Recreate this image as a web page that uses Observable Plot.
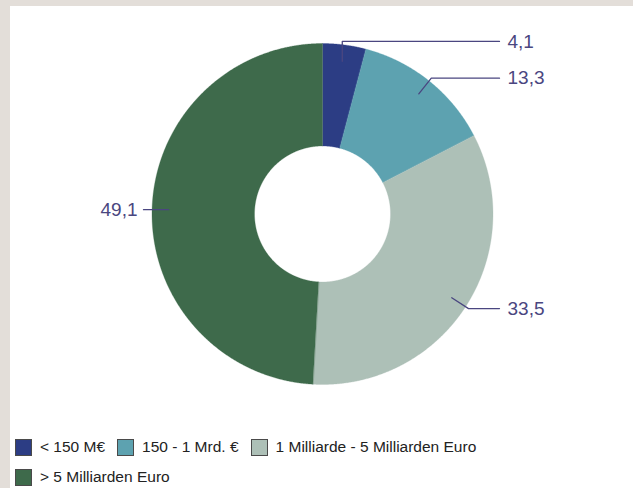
<!DOCTYPE html>
<html>
<head>
<meta charset="utf-8">
<script src="https://cdn.jsdelivr.net/npm/d3@7"></script>
<script src="https://cdn.jsdelivr.net/npm/@observablehq/plot@0.6"></script>
<style>
  html, body { margin: 0; padding: 0; }
  body { width: 633px; height: 488px; background: #e3ded9; overflow: hidden; position: relative; font-family: "Liberation Sans", Arial, sans-serif; }
  #panel { position: absolute; left: 10px; top: 6px; width: 623px; height: 482px; background: #ffffff; }
  #chart svg { display: block; }
  #legend { margin-top: 6px; padding-left: 5px; width: 560px; display: flex; flex-wrap: wrap; }
  .item { display: flex; align-items: center; height: 30px; margin-right: 12px; font-size: 15.5px; color: #222; }
  .sw { width: 17px; height: 17px; border: 1px solid #4a4a4a; margin-right: 8px; box-sizing: border-box; }
</style>
</head>
<body>
<div id="panel">
  <div id="chart"></div>
  <div id="legend"></div>
</div>
<script>
const categories = ["< 150 M€", "150 - 1 Mrd. €", "1 Milliarde - 5 Milliarden Euro", "> 5 Milliarden Euro"];
const values = [4.1, 13.3, 33.5, 49.1];
const valueLabels = ["4,1", "13,3", "33,5", "49,1"];
const colors = ["#2c3d84", "#5da2b0", "#adc0b7", "#3e6a4b"];

const W = 623, H = 420;
const cx = 312, cy = 207.5, R = 170.5, r0 = 68;
const rLeadIn = 154, rLeadOut = 174, xRight = 489, xLeft = 133;
const labelColor = "#4a4680";

const data = categories.map((c, i) => ({cat: c, value: values[i], label: valueLabels[i]}));
const arcs = d3.pie().sort(null).value(d => d.value)(data);
const pt = (a, rr) => [cx + rr * Math.sin(a), cy - rr * Math.cos(a)];

// polygon outline for each slice, sampled along its arcs
const polys = [];
arcs.forEach(a => {
  const n = Math.max(2, Math.ceil((a.endAngle - a.startAngle) / 0.005));
  for (let k = 0; k <= n; k++) {
    const t = a.startAngle + (a.endAngle - a.startAngle) * k / n;
    const [x, y] = pt(t, R);
    polys.push({cat: a.data.cat, x, y});
  }
  for (let k = n; k >= 0; k--) {
    const t = a.startAngle + (a.endAngle - a.startAngle) * k / n;
    const [x, y] = pt(t, r0);
    polys.push({cat: a.data.cat, x, y});
  }
});

// leader lines
const leaders = [];
const labelPts = [];
arcs.forEach(a => {
  const mid = (a.startAngle + a.endAngle) / 2;
  const right = Math.sin(mid) >= 0;
  const [x1, y1] = pt(mid, rLeadIn);
  const [x2, y2] = pt(mid, rLeadOut);
  leaders.push({id: a.data.cat, x: x1, y: y1});
  if (right) {
    leaders.push({id: a.data.cat, x: Math.abs(x2 - x1) < 6 ? x1 : x2, y: y2});
    leaders.push({id: a.data.cat, x: xRight, y: y2});
    labelPts.push({label: a.data.label, right, x: xRight + 8, y: y2});
  } else {
    leaders.push({id: a.data.cat, x: xLeft, y: y1});
    labelPts.push({label: a.data.label, right, x: xLeft - 6, y: y1});
  }
});

const chart = Plot.plot({
  width: W,
  height: H,
  margin: 0,
  x: {domain: [0, W], range: [0, W], axis: null},
  y: {domain: [0, H], range: [0, H], axis: null},
  color: {domain: categories, range: colors},
  style: {background: "transparent", overflow: "visible"},
  marks: [
    Plot.line(polys, {x: "x", y: "y", z: "cat", fill: "cat", stroke: "cat", strokeWidth: 0.3, curve: "linear-closed"}),
    Plot.line(leaders, {x: "x", y: "y", z: "id", stroke: labelColor, strokeWidth: 1.3, curve: "linear"}),
    Plot.text(labelPts.filter(d => d.right), {x: "x", y: "y", text: "label", textAnchor: "start", fill: labelColor, fontSize: 19, fontFamily: "Liberation Sans"}),
    Plot.text(labelPts.filter(d => !d.right), {x: "x", y: "y", text: "label", textAnchor: "end", fill: labelColor, fontSize: 19, fontFamily: "Liberation Sans"})
  ]
});
document.getElementById("chart").appendChild(chart);

const legend = document.getElementById("legend");
categories.forEach((c, i) => {
  const item = document.createElement("div");
  item.className = "item";
  const sw = document.createElement("span");
  sw.className = "sw";
  sw.style.background = colors[i];
  const t = document.createElement("span");
  t.textContent = c;
  item.appendChild(sw);
  item.appendChild(t);
  legend.appendChild(item);
});
</script>
</body>
</html>
